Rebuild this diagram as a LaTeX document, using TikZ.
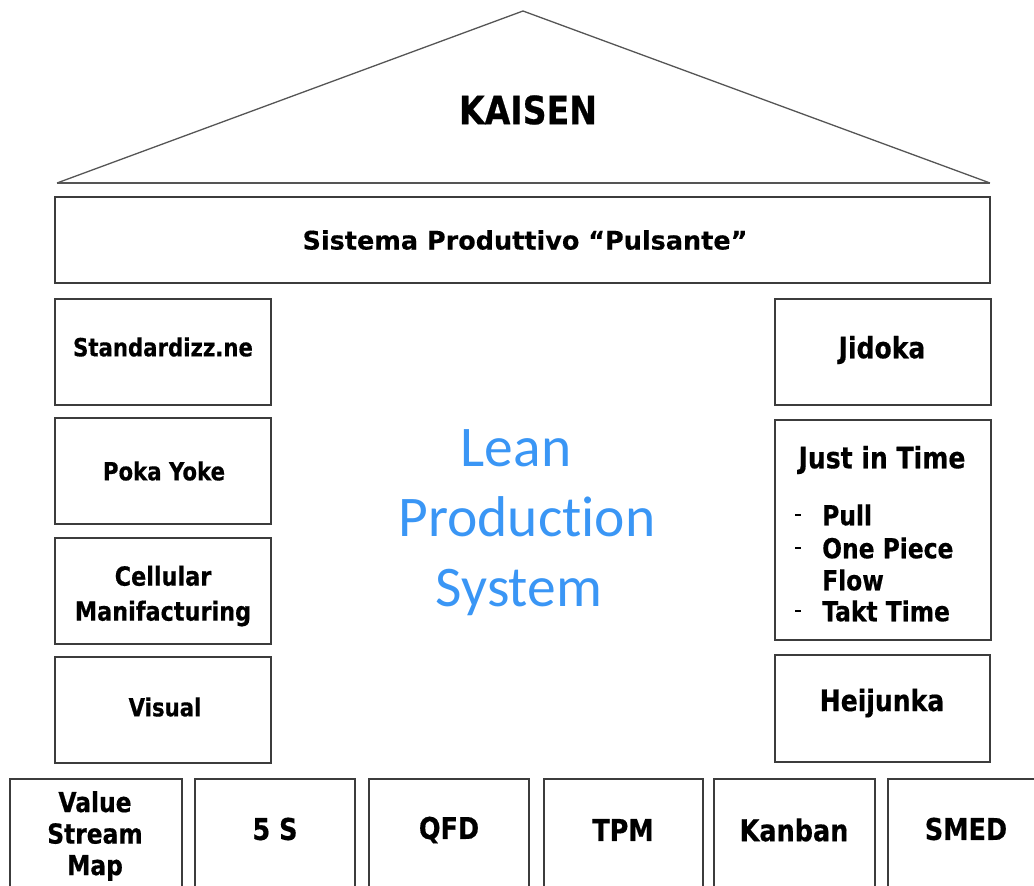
\documentclass[tikz,border=0pt]{standalone}
\usepackage{fontspec}
\newfontfamily\narrowbold[FakeStretch=0.85,FakeBold=0.5]{DejaVu Sans Bold}
\newfontfamily\widebold[FakeBold=0.3]{DejaVu Sans Bold}
\newfontfamily\leanfont[Ligatures=NoCommon]{Carlito}
\definecolor{frame}{RGB}{60,60,60}
\definecolor{roofline}{RGB}{85,85,85}
\definecolor{leanblue}{RGB}{58,150,245}
\tikzset{
  x=1pt, y=-1pt,
  box/.style={draw=frame, line width=1.8pt, rectangle, inner sep=0pt},
  pillar/.style={box, minimum width=216pt, minimum height=106pt},
  basebox/.style={box, minimum height=130pt, anchor=north},
  lbl/.style={font=\narrowbold\fontsize{25}{30}\selectfont, inner sep=0pt, align=center},
  rlbl/.style={lbl, font=\narrowbold\fontsize{29.5}{32}\selectfont},
  blbl/.style={lbl, font=\narrowbold\fontsize{30}{32}\selectfont},
  item/.style={font=\narrowbold\fontsize{27.5}{30}\selectfont, inner sep=0pt, anchor=west},
}
\begin{document}
\begin{tikzpicture}
\useasboundingbox (0,0) rectangle (1034,886);
\clip (0,0) rectangle (1034,886);

% roof
\coordinate (roofL) at (57,183);
\coordinate (roofT) at (523,11);
\coordinate (roofR) at (990,183);
\draw[roofline, line width=1.3pt, line join=miter] (roofL) -- (roofT) -- (roofR);
\draw[roofline, line width=2.2pt] (roofL) -- (roofR);
\node[font=\narrowbold\fontsize{39}{44}\selectfont, inner sep=0pt] (kaisen) at (528,110) {KAISEN};

% beam
\node[box, minimum width=935pt, minimum height=86pt] (beam) at (522.5,240) {};
\node[font=\widebold\fontsize{25.5}{30}\selectfont, inner sep=0pt] (beamtxt) at (525,240) {Sistema Produttivo “Pulsante”};

% left pillar
\node[pillar] (std) at (163,352) {};
\node[lbl, font=\narrowbold\fontsize{25}{28}\selectfont] at (163,347) {Standardizz.ne};
\node[pillar] (poka) at (163,471) {};
\node[lbl] at (164,471) {Poka Yoke};
\node[pillar] (cell) at (163,591) {};
\node[lbl, font=\narrowbold\fontsize{26.3}{35}\selectfont] at (163,596) {Cellular\\Manifacturing};
\node[pillar] (visual) at (163,710) {};
\node[lbl] at (165,707) {Visual};

% right pillar
\node[pillar] (jidoka) at (883,352) {};
\node[rlbl] at (882,350) {Jidoka};
\node[box, minimum width=216pt, minimum height=220pt] (jit) at (883,530) {};
\node[rlbl] at (882,460) {Just in Time};
\node[item] (pull) at (822,515) {Pull};
\node[item] (opf) at (822,548) {One Piece};
\node[item] (flow) at (822,580) {Flow};
\node[item] (takt) at (822,611) {Takt Time};
\foreach \it in {pull,opf,takt}
  \draw[black, line width=1.2pt] ([xshift=-27pt]\it.west) -- ([xshift=-21pt]\it.west);
\node[box, minimum width=215pt, minimum height=107pt] (heij) at (882.5,708.5) {};
\node[rlbl] at (882,703) {Heijunka};

% centre title
\node[font=\leanfont\fontsize{57.5}{70}\selectfont, text=leanblue, align=center, inner sep=0pt] (lean) at (527,523) {Lean\kern 22pt\\Production\\System\kern 16pt};

% foundation
\node[basebox, minimum width=172pt] (vsm) at (96,778) {};
\node[lbl, font=\narrowbold\fontsize{27.5}{31.5}\selectfont] at (95,836) {Value\\Stream\\Map};
\node[basebox, minimum width=160pt] (fives) at (275,778) {};
\node[blbl] at (275,829) {5 S};
\node[basebox, minimum width=160pt] (qfd) at (449,778) {};
\node[blbl] at (449,830) {QFD};
\node[basebox, minimum width=159pt] (tpm) at (623.5,778) {};
\node[blbl] at (623,830) {TPM};
\node[basebox, minimum width=161pt] (kanban) at (794.5,778) {};
\node[blbl] at (794,830) {Kanban};
\node[basebox, minimum width=162pt] (smed) at (969,778) {};
\node[blbl] at (966,829) {SMED};
\end{tikzpicture}
\end{document}
